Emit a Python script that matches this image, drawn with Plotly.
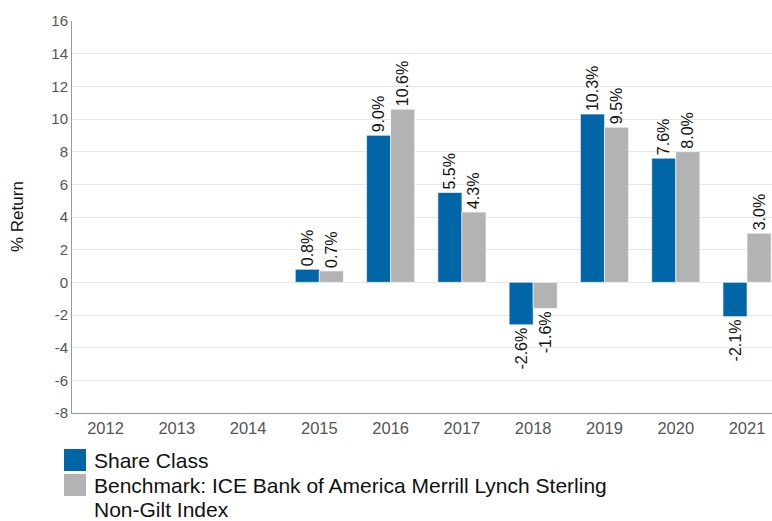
import plotly.graph_objects as go

years = ["2012", "2013", "2014", "2015", "2016", "2017", "2018", "2019", "2020", "2021"]
share_class = [None, None, None, 0.8, 9.0, 5.5, -2.6, 10.3, 7.6, -2.1]
benchmark = [None, None, None, 0.7, 10.6, 4.3, -1.6, 9.5, 8.0, 3.0]
series_names = ["Share Class", "Benchmark: ICE Bank of America Merrill Lynch Sterling"]
series_name_cont = ["", "Non-Gilt Index"]
colors = ["#0066A8", "#B3B3B3"]
y_ticks = list(range(-8, 17, 2))

FONT = "Liberation Sans, Arial, sans-serif"
W, H = 772, 521
ML, MR, MT, MB = 72, 0, 21, 108
PW, PH = W - ML - MR, H - MT - MB

def px_x(p):
    return (p - ML) / PW

def px_y(p):
    return (H - MB - p) / PH

def labels(vals):
    return ["" if v is None else f"{v:.1f}%" for v in vals]

fig = go.Figure()
for vals, name, col in zip([share_class, benchmark], series_names, colors):
    fig.add_trace(go.Bar(
        x=years, y=vals, name=name, showlegend=False,
        marker=dict(color=col, line=dict(color="white", width=0.6)),
        text=labels(vals), textposition="outside", textangle=-90,
        constraintext="none",
        textfont=dict(family=FONT, size=16, color="#111"),
        cliponaxis=False,
    ))

fig.add_annotation(
    text="% Return", xref="paper", yref="paper", x=0, y=0.5,
    xshift=-55, xanchor="center", yanchor="middle", textangle=-90,
    showarrow=False, font=dict(family=FONT, size=17, color="#111"),
)

# custom legend (larger swatches, tight line spacing as in the reference)
legend_rows = [460, 485]
for row_y, name, cont, col in zip(legend_rows, series_names, series_name_cont, colors):
    fig.add_shape(
        type="rect", xref="paper", yref="paper",
        x0=px_x(64), x1=px_x(86), y0=px_y(row_y - 11), y1=px_y(row_y + 11),
        fillcolor=col, line=dict(width=0),
    )
    fig.add_annotation(
        text=name, xref="paper", yref="paper", x=px_x(92), y=px_y(row_y),
        xanchor="left", yanchor="middle", showarrow=False,
        font=dict(family=FONT, size=21, color="#111"),
    )
    if cont:
        fig.add_annotation(
            text=cont, xref="paper", yref="paper", x=px_x(92), y=px_y(row_y + 24),
            xanchor="left", yanchor="middle", showarrow=False,
            font=dict(family=FONT, size=21, color="#111"),
        )

fig.update_layout(
    width=W, height=H,
    margin=dict(l=ML, r=MR, t=MT, b=MB, autoexpand=False),
    paper_bgcolor="white", plot_bgcolor="white",
    font=dict(family=FONT, color="#555"),
    barmode="group", bargap=0.325, bargroupgap=0.0,
    showlegend=False,
    xaxis=dict(
        type="category", range=[-0.47, 9.35],
        showline=True, linecolor="#999", linewidth=1,
        tickfont=dict(size=16.5, color="#555"), ticks="", showgrid=False,
        automargin=False,
    ),
    yaxis=dict(
        range=[-8, 16], tickvals=y_ticks, ticktext=[str(t) for t in y_ticks],
        showline=True, linecolor="#999", linewidth=1,
        gridcolor="#E6E6E6", zeroline=False, automargin=False,
        tickfont=dict(size=15, color="#555"),
    ),
)

fig.write_html("out.html", config={"displayModeBar": False},
               post_script="document.body.style.margin='0';")
